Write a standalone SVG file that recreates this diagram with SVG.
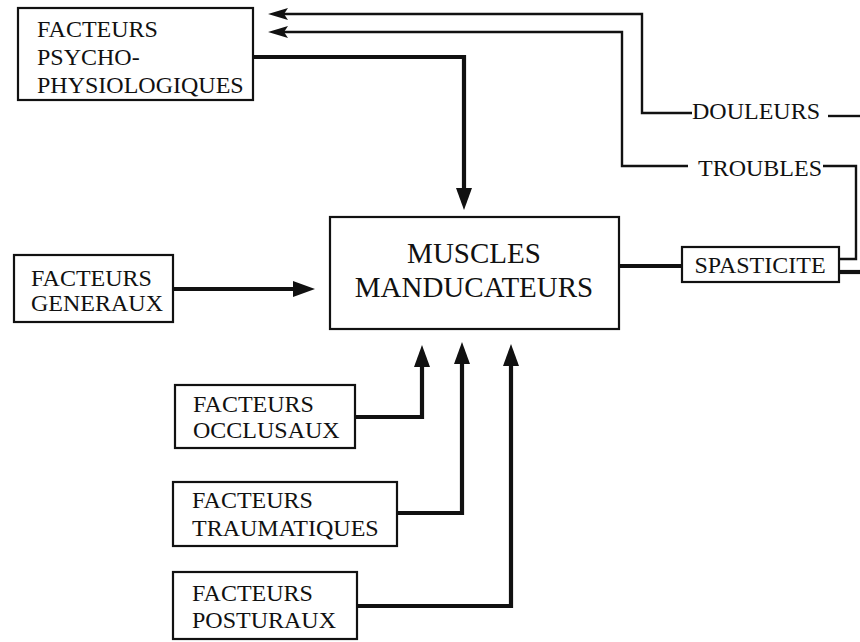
<svg xmlns="http://www.w3.org/2000/svg" width="860" height="642" viewBox="0 0 860 642">
<style>
.box{fill:#fff;stroke:#111;stroke-width:2.2}
.t{font-family:"Liberation Serif","Times New Roman",serif;font-size:24px;fill:#111}
.big{font-size:29px}
.thick{fill:none;stroke:#111;stroke-width:4.2}
.thin{fill:none;stroke:#111;stroke-width:2.4}
</style>
<defs>
<marker id="ah" viewBox="0 0 22 16" markerWidth="22" markerHeight="16" refX="12" refY="8" orient="auto" markerUnits="userSpaceOnUse">
<path d="M0,0 L22,8 L0,16 z" fill="#111"/>
</marker>
<marker id="ahs" viewBox="0 0 20 12" markerWidth="20" markerHeight="12" refX="10" refY="6" orient="auto" markerUnits="userSpaceOnUse">
<path d="M0,0 L20,6 L0,12 L4,6 z" fill="#111"/>
</marker>
</defs>
<rect width="860" height="642" fill="#fff"/>
<g id="connectors">
<path class="thick" d="M254,57 H464 V200" marker-end="url(#ah)"/>
<path class="thick" d="M173,289 H305" marker-end="url(#ah)"/>
<path class="thick" d="M355,417 H422 V355" marker-end="url(#ah)"/>
<path class="thick" d="M397,513 H462 V352" marker-end="url(#ah)"/>
<path class="thick" d="M357,606 H511 V354" marker-end="url(#ah)"/>
<path class="thick" d="M619,266 H682"/>
<path class="thick" d="M839,272 H860"/>
<path class="thin" d="M839,259 H856 V166 H823"/>
<path class="thin" d="M688,166 H622 V32 H278" marker-end="url(#ahs)"/>
<path class="thin" d="M860,116 H828"/>
<path class="thin" d="M692,113 H642 V14 H278" marker-end="url(#ahs)"/>
</g>
<g id="psycho">
<rect class="box" x="18" y="8" width="235" height="92"/>
<text class="t" x="37" y="37">FACTEURS</text>
<text class="t" x="37" y="65">PSYCHO-</text>
<text class="t" x="37" y="93">PHYSIOLOGIQUES</text>
</g>
<g id="generaux">
<rect class="box" x="14" y="255" width="159" height="67"/>
<text class="t" x="31" y="286">FACTEURS</text>
<text class="t" x="31" y="311">GENERAUX</text>
</g>
<g id="muscles">
<rect class="box" x="330" y="217" width="289" height="112"/>
<text class="t big" x="474" y="263" text-anchor="middle">MUSCLES</text>
<text class="t big" x="474" y="297" text-anchor="middle">MANDUCATEURS</text>
</g>
<g id="occlusaux">
<rect class="box" x="175" y="385" width="180" height="63"/>
<text class="t" x="193" y="412">FACTEURS</text>
<text class="t" x="193" y="438">OCCLUSAUX</text>
</g>
<g id="traumatiques">
<rect class="box" x="173" y="482" width="224" height="64"/>
<text class="t" x="192" y="508">FACTEURS</text>
<text class="t" x="192" y="536">TRAUMATIQUES</text>
</g>
<g id="posturaux">
<rect class="box" x="173" y="572" width="184" height="67"/>
<text class="t" x="192" y="601">FACTEURS</text>
<text class="t" x="192" y="628">POSTURAUX</text>
</g>
<g id="spasticite">
<rect class="box" x="682" y="247" width="157" height="35"/>
<text class="t" x="760" y="273" text-anchor="middle">SPASTICITE</text>
</g>
<g id="douleurs">
<text class="t" x="692" y="119">DOULEURS</text>
</g>
<g id="troubles">
<text class="t" x="698" y="176">TROUBLES</text>
</g>
</svg>
